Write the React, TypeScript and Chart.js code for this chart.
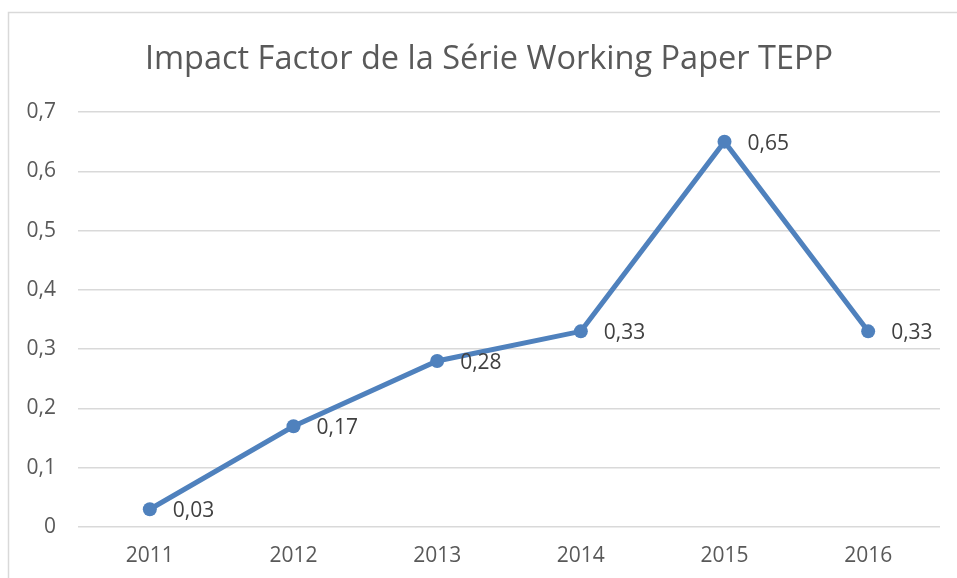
import React, { useEffect, useRef } from "react";
import { Chart, registerables } from "chart.js";

Chart.register(...registerables);

const years = ["2011", "2012", "2013", "2014", "2015", "2016"];
const impactFactor = [0.03, 0.17, 0.28, 0.33, 0.65, 0.33];
const yMin = 0;
const yMax = 0.7;
const yStep = 0.1;
const titleText = "Impact Factor de la Série Working Paper TEPP";

const fmt = (v: number) => String(Math.round(v * 100) / 100).replace(".", ",");

const framePlugin = {
  id: "frame",
  beforeDraw(chart: any) {
    const ctx = chart.ctx;
    ctx.save();
    ctx.fillStyle = "#ffffff";
    ctx.fillRect(0, 0, chart.width, chart.height);
    ctx.strokeStyle = "#d9d9d9";
    ctx.lineWidth = 1.5;
    ctx.beginPath();
    ctx.moveTo(8.5, chart.height + 5);
    ctx.lineTo(8.5, 12.5);
    ctx.lineTo(chart.width + 5, 12.5);
    ctx.stroke();
    ctx.restore();
  },
};

const titlePlugin = {
  id: "customTitle",
  afterDraw(chart: any) {
    const ctx = chart.ctx;
    ctx.save();
    ctx.font = "32.5px 'Open Sans'";
    ctx.fillStyle = "#595959";
    ctx.textAlign = "center";
    ctx.textBaseline = "middle";
    ctx.fillText(titleText, 489, 60);
    ctx.restore();
  },
};

const labelPlugin = {
  id: "pointLabels",
  afterDatasetsDraw(chart: any) {
    const ctx = chart.ctx;
    const meta = chart.getDatasetMeta(0);
    ctx.save();
    ctx.font = "21px 'Open Sans'";
    ctx.fillStyle = "#404040";
    ctx.textAlign = "left";
    ctx.textBaseline = "middle";
    meta.data.forEach((pt: any, i: number) => {
      ctx.fillText(fmt(impactFactor[i]), pt.x + 23, pt.y + 2);
    });
    ctx.restore();
  },
};

export default function App() {
  const ref = useRef<HTMLCanvasElement>(null);
  useEffect(() => {
    if (!ref.current) return;
    const chart = new Chart(ref.current, {
      type: "line",
      data: {
        labels: years,
        datasets: [
          {
            data: impactFactor,
            borderColor: "#4f81bd",
            backgroundColor: "#4f81bd",
            borderWidth: 5,
            pointRadius: 7,
            pointBackgroundColor: "#4f81bd",
            pointBorderWidth: 0,
            tension: 0,
          },
        ],
      },
      options: {
        animation: false,
        responsive: false,
        layout: { padding: { left: 8, right: 17, top: 112, bottom: 0 } },
        plugins: {
          legend: { display: false },
          tooltip: { enabled: false },
          title: { display: false },
        },
        scales: {
          x: {
            offset: true,
            grid: { display: false, drawTicks: false },
            border: { display: false },
            ticks: {
              color: "#595959",
              font: { family: "'Open Sans'", size: 21 },
              padding: 16,
              maxRotation: 0,
            },
            afterFit: (s: any) => {
              s.height = 51;
            },
          },
          y: {
            min: yMin,
            max: yMax,
            grid: { color: "#d9d9d9", lineWidth: 1.5, drawTicks: false },
            border: { display: false },
            ticks: {
              stepSize: yStep,
              color: "#595959",
              font: { family: "'Open Sans'", size: 21 },
              padding: 22,
              callback: (v: any) => fmt(Number(v)),
            },
            afterFit: (s: any) => {
              s.width = 70;
            },
          },
        },
      },
      plugins: [framePlugin, labelPlugin, titlePlugin],
    });
    return () => chart.destroy();
  }, []);
  return (
    <div style={{ position: "fixed", left: 0, top: 0, width: 957, height: 578 }}>
      <canvas ref={ref} width={957} height={578} style={{ display: "block" }} />
    </div>
  );
}
